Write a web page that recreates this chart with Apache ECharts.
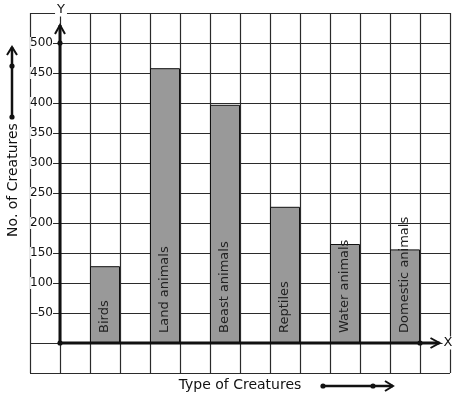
<!DOCTYPE html>
<html>
<head>
<meta charset="utf-8">
<script src="https://cdn.jsdelivr.net/npm/echarts@6/dist/echarts.min.js"></script>
<style>
  html, body { margin: 0; padding: 0; background: #fff; }
  #chart { width: 457px; height: 399px; }
</style>
</head>
<body>
<div id="chart"></div>
<script>
var creatures = ['Birds', 'Land animals', 'Beast animals', 'Reptiles', 'Water animals', 'Domestic animals'];
var counts = [128, 458, 397, 227, 165, 156];
var yTicks = [50, 100, 150, 200, 250, 300, 350, 400, 450, 500];

var font = 'DejaVu Sans';
var ink = '#111';

// each creature sits in every second column of the graph paper, right of the Y axis
var barData = creatures.map(function (c, i) {
    return { name: c, value: [2 * i + 1.5, counts[i]] };
});

var myChart = echarts.init(document.getElementById('chart'));
var option = {
    animation: false,
    grid: { left: 30, right: 7, top: 13, bottom: 26, outerBoundsMode: 'none' },
    xAxis: {
        type: 'value', min: -1, max: 13, interval: 1,
        axisLine: { show: false, onZero: false },
        axisTick: { show: false },
        axisLabel: { show: false },
        splitLine: { show: true, lineStyle: { color: '#2b2b2b', width: 1.2 } }
    },
    yAxis: [{
        type: 'value', min: -50, max: 550, interval: 50, z: 5,
        axisLine: { show: false, onZero: false },
        axisTick: { show: false },
        splitLine: { show: false },
        axisLabel: {
            inside: true, margin: 23, align: 'right',
            fontFamily: font, fontSize: 12, color: ink,
            backgroundColor: '#fff',
            formatter: function (v) { return yTicks.indexOf(v) >= 0 ? String(v) : ''; }
        }
    }, {
        type: 'value', min: -50, max: 550, interval: 50,
        axisLine: { show: false },
        axisTick: { show: false },
        axisLabel: { show: false },
        splitLine: { show: true, lineStyle: { color: '#2b2b2b', width: 1.2 } }
    }],
    series: [{
        type: 'bar',
        data: barData,
        barWidth: 30,
        itemStyle: { color: '#999999', borderColor: '#111', borderWidth: 1 },
        label: {
            show: true, formatter: '{b}',
            position: 'insideBottom', distance: 10,
            rotate: 90, align: 'left', verticalAlign: 'middle',
            fontFamily: font, fontSize: 13, color: '#222'
        }
    }]
};
myChart.setOption(option);

var o = myChart.convertToPixel({ gridIndex: 0 }, [0, 0]);
var yTop = myChart.convertToPixel({ gridIndex: 0 }, [0, 530]);
var y500 = myChart.convertToPixel({ gridIndex: 0 }, [0, 500]);
var xEnd = myChart.convertToPixel({ gridIndex: 0 }, [12.65, 0]);
var x12 = myChart.convertToPixel({ gridIndex: 0 }, [12, 0]);

function dot(x, y) {
    return { type: 'circle', z: 20, shape: { cx: x, cy: y, r: 2.6 }, style: { fill: ink } };
}
function seg(pts, w) {
    return { type: 'polyline', z: 20, shape: { points: pts }, style: { stroke: ink, lineWidth: w, fill: null } };
}

myChart.setOption({
    graphic: [
        // axes drawn thick from the origin, with open arrow heads
        seg([[o[0], o[1]], [o[0], yTop[1]]], 3),
        seg([[o[0] - 5, yTop[1] + 9], [o[0], yTop[1]], [o[0] + 5, yTop[1] + 9]], 2),
        seg([[o[0], o[1]], [xEnd[0], o[1]]], 3),
        seg([[xEnd[0] - 9, o[1] - 5], [xEnd[0], o[1]], [xEnd[0] - 9, o[1] + 5]], 2),
        dot(o[0], o[1]), dot(o[0], y500[1]), dot(x12[0], o[1]),
        { type: 'text', z: 21, x: o[0] + 1, y: 10, style: { text: 'Y', font: '13px ' + font, fill: ink, align: 'center', verticalAlign: 'middle', backgroundColor: '#fff', padding: [0, 2] } },
        { type: 'text', z: 21, x: 448, y: o[1], style: { text: 'X', font: '13px ' + font, fill: ink, align: 'center', verticalAlign: 'middle', backgroundColor: '#fff', padding: [0, 1] } },
        // axis titles with their little arrows
        { type: 'text', z: 21, x: 13, y: 180, rotation: Math.PI / 2, style: { text: 'No. of Creatures', font: '14px ' + font, fill: ink, align: 'center', verticalAlign: 'middle' } },
        seg([[12, 117], [12, 47]], 2.5),
        seg([[7, 55], [12, 47], [17, 55]], 2),
        dot(12, 117), dot(12, 66),
        { type: 'text', z: 21, x: 240, y: 385, style: { text: 'Type of Creatures', font: '14px ' + font, fill: ink, align: 'center', verticalAlign: 'middle' } },
        seg([[323, 386], [393, 386]], 2.5),
        seg([[385, 381], [393, 386], [385, 391]], 2),
        dot(323, 386), dot(373, 386)
    ]
});
window.onresize = myChart.resize;
</script>
</body>
</html>
